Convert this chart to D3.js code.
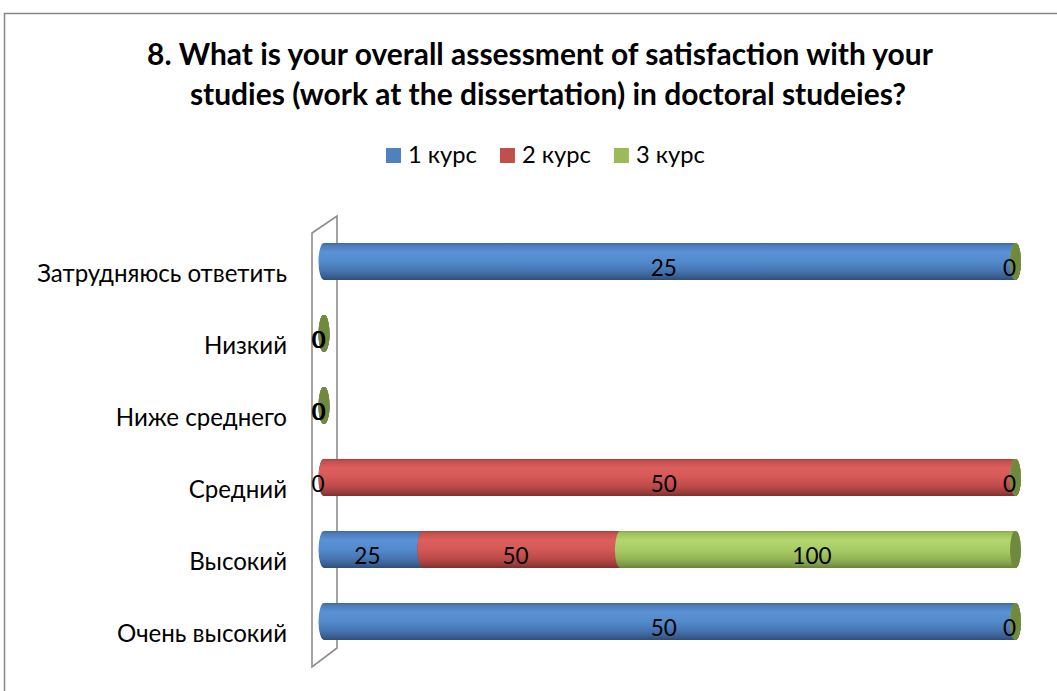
<!DOCTYPE html>
<html>
<head>
<meta charset="utf-8">
<script src="https://cdn.jsdelivr.net/npm/d3@7"></script>
<style>
  html, body { margin: 0; padding: 0; background: #fff; }
  svg { display: block; }
  text { font-family: Lato, "Open Sans", "DejaVu Sans", sans-serif; fill: #000; }
</style>
</head>
<body>
<svg id="chart" width="1057" height="691"></svg>
<script>
// Survey answers (counts per study year), 100% stacked per answer
const categories = ["Затрудняюсь ответить", "Низкий", "Ниже среднего", "Средний", "Высокий", "Очень высокий"];
const seriesNames = ["1 курс", "2 курс", "3 курс"];
const kurs1 = [25, 0, 0, 0, 25, 50];
const kurs2 = [null, 0, 0, 50, 50, null];
const kurs3 = [0, 0, 0, 0, 100, 0];
const titleLines = [
  "8. What is your overall assessment of satisfaction with your",
  "studies (work at the dissertation) in doctoral studeies?"
];

const svg = d3.select("#chart");
const defs = svg.append("defs");

// cylinder shading per series
const palette = {
  "1 курс": { swatch: "#4f81bd", cap: "#3d6596",
    stops: [[0, "#3f679c"], [0.06, "#4a7ab8"], [0.25, "#5b92d5"], [0.5, "#528acc"], [0.75, "#4574b0"], [0.92, "#385d8f"], [1, "#2e4c76"]] },
  "2 курс": { swatch: "#c0504d", cap: "#a33f3d",
    stops: [[0, "#a8413f"], [0.06, "#c44f4d"], [0.25, "#de605e"], [0.5, "#d45856"], [0.75, "#bb4a48"], [0.92, "#963a38"], [1, "#7c2f2e"]] },
  "3 курс": { swatch: "#9bbb59", cap: "#6f8a3d",
    stops: [[0, "#86a64c"], [0.06, "#9cc05a"], [0.25, "#b3d770"], [0.5, "#a9cd66"], [0.75, "#93b556"], [0.92, "#7a9746"], [1, "#66803a"]] }
};
seriesNames.forEach((s, i) => {
  const g = defs.append("linearGradient").attr("id", "grad" + i)
    .attr("x1", 0).attr("y1", 0).attr("x2", 0).attr("y2", 1);
  palette[s].stops.forEach(([o, c]) => g.append("stop").attr("offset", o).attr("stop-color", c));
});

// font size that makes a string span a given width
function fitSize(str, width, weight) {
  const t = svg.append("text").attr("font-size", 100).attr("font-weight", weight || "normal").text(str);
  const w = t.node().getComputedTextLength();
  t.remove();
  return 100 * width / w;
}

// chart frame
svg.append("rect").attr("x", 4.5).attr("y", 13.5).attr("width", 1100).attr("height", 720)
  .attr("fill", "none").attr("stroke", "#878787").attr("stroke-width", 1.5);

// title
const titleSize = fitSize(titleLines[0], 786, "bold");
svg.append("text").attr("x", 540).attr("y", 65).attr("text-anchor", "middle")
  .attr("font-weight", "bold").attr("font-size", titleSize).text(titleLines[0]);
svg.append("text").attr("x", 548).attr("y", 105).attr("text-anchor", "middle")
  .attr("font-weight", "bold").attr("font-size", titleSize).text(titleLines[1]);

// legend
const legendSize = fitSize("1 курс", 69);
let lx = 386;
seriesNames.forEach((s, i) => {
  svg.append("rect").attr("x", lx).attr("y", 148).attr("width", 15).attr("height", 15)
    .attr("fill", palette[s].swatch);
  const t = svg.append("text").attr("x", lx + 22).attr("y", 163)
    .attr("font-size", legendSize).text(s);
  lx += 22 + t.node().getComputedTextLength() + 23;
});

// data table and 100% stack
const rows = categories.map((c, i) => ({
  category: c, "1 курс": kurs1[i], "2 курс": kurs2[i], "3 курс": kurs3[i]
}));
const stack = d3.stack().keys(seriesNames)
  .value((d, k) => d[k] || 0)
  .offset(d3.stackOffsetExpand);
const stacked = stack(rows);

const x = d3.scaleLinear().domain([0, 1]).range([324, 1015.5]);
const y = d3.scaleBand().domain(categories).range([225.5, 657.5]);
const barH = 37, rx = 5.5, ry = barH / 2;
const cy = c => y(c) + y.bandwidth() / 2;

// 3D side wall
svg.append("path")
  .attr("d", `M312,667 L312,233 L337,216 L337,648 Z`)
  .attr("fill", "none").attr("stroke", "#8c8c8c").attr("stroke-width", 1.6);

// category labels
const catSize = fitSize(categories[0], 250);
svg.append("g").selectAll("text").data(categories).join("text")
  .attr("x", 287).attr("y", d => cy(d) + 20)
  .attr("text-anchor", "end").attr("font-size", catSize).text(d => d);

// cylinder segments, drawn series by series so later segments cover earlier caps
function segPath(a, b, c) {
  const t = c - ry, bt = c + ry;
  return `M${a},${t} L${b},${t} A${rx},${ry} 0 0 1 ${b},${bt} L${a},${bt} A${rx},${ry} 0 0 1 ${a},${t} Z`;
}
stacked.forEach((ser, i) => {
  const g = svg.append("g");
  const segs = ser.filter(d => d.data[ser.key] !== null);
  g.selectAll("path").data(segs).join("path")
    .attr("d", d => segPath(x(d[0]), x(d[1]), cy(d.data.category)))
    .attr("fill", `url(#grad${i})`);
  g.selectAll("ellipse").data(segs).join("ellipse")
    .attr("cx", d => x(d[1])).attr("cy", d => cy(d.data.category))
    .attr("rx", rx).attr("ry", ry)
    .attr("fill", palette[ser.key].cap);
});

// value labels; labels that land on the same spot are nudged slightly apart
const valSize = 22.5;
const seen = new Map();
stacked.forEach(ser => {
  const segs = ser.filter(d => d.data[ser.key] !== null).map(d => {
    const px = x((d[0] + d[1]) / 2) - 6;
    const key = d.data.category + "|" + px.toFixed(1);
    const n = seen.get(key) || 0;
    seen.set(key, n + 1);
    return { d, px: px + n * 0.6, val: d.data[ser.key] };
  });
  svg.append("g").selectAll("text").data(segs).join("text")
    .attr("x", s => s.px)
    .attr("y", s => cy(s.d.data.category) + 14.5)
    .attr("text-anchor", "middle").attr("font-size", valSize)
    .text(s => s.val);
});
</script>
</body>
</html>
